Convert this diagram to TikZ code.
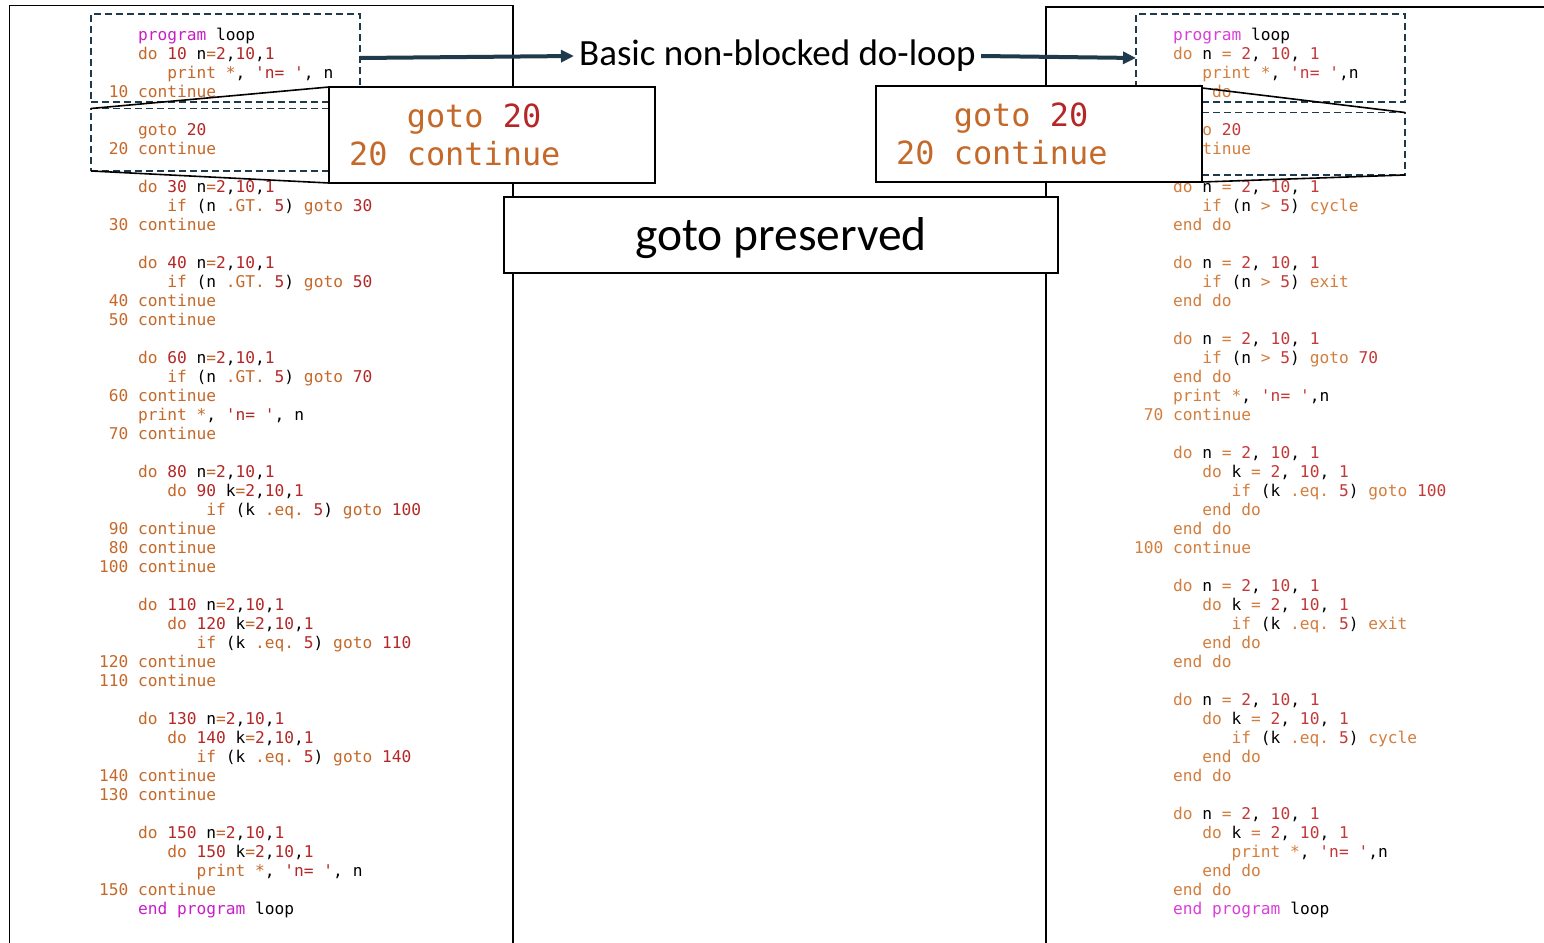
\documentclass[tikz,border=0pt]{standalone}
\usepackage{fontspec}
\setmonofont{DejaVu Sans Mono}
\newfontfamily\labelfont{Carlito}
\usetikzlibrary{arrows.meta}

\definecolor{slate}{HTML}{1F3A4B}
\definecolor{kwc}{HTML}{C4692A}
\definecolor{numc}{HTML}{B52626}
\definecolor{magc}{HTML}{C81EC8}

\newcommand\K[1]{\textcolor{kwc}{#1}}
\newcommand\N[1]{\textcolor{numc}{#1}}
\newcommand\M[1]{\textcolor{magc}{#1}}
% one line of a listing: name, column, row, text
\newcommand\cl[4]{\node[code] (#1) at ({\colx+9.75*#2},{40.5+19*#3}) {#4};}

\tikzset{
  code/.style={font=\ttfamily\fontsize{16.2}{19}\selectfont, inner sep=0pt, anchor=base west, text=black},
  bigcode/.style={font=\ttfamily\fontsize{31.9}{38}\selectfont, inner sep=0pt, anchor=base west, text=black},
  panel/.style={draw=black, line width=1.6pt},
  dbox/.style={draw=slate, line width=1.8pt, dash pattern=on 7pt off 4pt, inner sep=0pt, outer sep=0pt},
  zoomline/.style={draw=black, line width=1.6pt},
  gotobox/.style={draw=black, fill=white, line width=1.6pt, inner sep=0pt, outer sep=0pt, minimum width=326pt, minimum height=96pt},
  pbox/.style={draw=black, fill=white, line width=1.6pt, inner sep=0pt, minimum width=554pt, minimum height=76pt, font=\labelfont\fontsize{47.5}{50}\selectfont},
  title/.style={font=\labelfont\fontsize{37}{40}\selectfont, inner xsep=5pt, inner ysep=0pt},
  arr/.style={draw=slate, line width=4pt, -{Triangle[length=13pt,width=12pt]}}
}

\begin{document}
\begin{tikzpicture}[x=1pt,y=-1pt]
\fill[white] (0,0) rectangle (1544,942);
\useasboundingbox (0,0) rectangle (1544,942);

% panel outlines
\draw[panel] (9.5,943) -- (9.5,5.5) -- (513,5.5) -- (513,943);
\draw[panel, line width=1.1pt] (1046,943) -- (1046,7) -- (1545,7);

% fixed-form listing
\begin{scope}
\def\colx{99}
\cl{l0}{4}{0}{\M{program} loop}
\cl{l1}{4}{1}{\K{do} \N{10} n\K{=}\N{2},\N{10},\N{1}}
\cl{l2}{7}{2}{\K{print} \K{*}, \N{'n= '}, n}
\cl{l3}{1}{3}{\K{10 continue}}
\cl{l5}{4}{5}{\K{goto} \N{20}}
\cl{l6}{1}{6}{\K{20 continue}}
\cl{l8}{4}{8}{\K{do} \N{30} n\K{=}\N{2},\N{10},\N{1}}
\cl{l9}{7}{9}{\K{if} (n \K{.GT.} \N{5}) \K{goto} \N{30}}
\cl{l10}{1}{10}{\K{30 continue}}
\cl{l12}{4}{12}{\K{do} \N{40} n\K{=}\N{2},\N{10},\N{1}}
\cl{l13}{7}{13}{\K{if} (n \K{.GT.} \N{5}) \K{goto} \N{50}}
\cl{l14}{1}{14}{\K{40 continue}}
\cl{l15}{1}{15}{\K{50 continue}}
\cl{l17}{4}{17}{\K{do} \N{60} n\K{=}\N{2},\N{10},\N{1}}
\cl{l18}{7}{18}{\K{if} (n \K{.GT.} \N{5}) \K{goto} \N{70}}
\cl{l19}{1}{19}{\K{60 continue}}
\cl{l20}{4}{20}{\K{print} \K{*}, \N{'n= '}, n}
\cl{l21}{1}{21}{\K{70 continue}}
\cl{l23}{4}{23}{\K{do} \N{80} n\K{=}\N{2},\N{10},\N{1}}
\cl{l24}{7}{24}{\K{do} \N{90} k\K{=}\N{2},\N{10},\N{1}}
\cl{l25}{11}{25}{\K{if} (k \K{.eq.} \N{5}) \K{goto} \N{100}}
\cl{l26}{1}{26}{\K{90 continue}}
\cl{l27}{1}{27}{\K{80 continue}}
\cl{l28}{0}{28}{\K{100 continue}}
\cl{l30}{4}{30}{\K{do} \N{110} n\K{=}\N{2},\N{10},\N{1}}
\cl{l31}{7}{31}{\K{do} \N{120} k\K{=}\N{2},\N{10},\N{1}}
\cl{l32}{10}{32}{\K{if} (k \K{.eq.} \N{5}) \K{goto} \N{110}}
\cl{l33}{0}{33}{\K{120 continue}}
\cl{l34}{0}{34}{\K{110 continue}}
\cl{l36}{4}{36}{\K{do} \N{130} n\K{=}\N{2},\N{10},\N{1}}
\cl{l37}{7}{37}{\K{do} \N{140} k\K{=}\N{2},\N{10},\N{1}}
\cl{l38}{10}{38}{\K{if} (k \K{.eq.} \N{5}) \K{goto} \N{140}}
\cl{l39}{0}{39}{\K{140 continue}}
\cl{l40}{0}{40}{\K{130 continue}}
\cl{l42}{4}{42}{\K{do} \N{150} n\K{=}\N{2},\N{10},\N{1}}
\cl{l43}{7}{43}{\K{do} \N{150} k\K{=}\N{2},\N{10},\N{1}}
\cl{l44}{10}{44}{\K{print} \K{*}, \N{'n= '}, n}
\cl{l45}{0}{45}{\K{150 continue}}
\cl{l46}{4}{46}{\M{end program} loop}
\end{scope}

% block-form listing
\begin{scope}
\definecolor{kwc}{HTML}{D27E3E}
\definecolor{numc}{HTML}{C53838}
\definecolor{magc}{HTML}{D93FD9}
\def\colx{1134}
\cl{r0}{4}{0}{\M{program} loop}
\cl{r1}{4}{1}{\K{do} n \K{=} \N{2}, \N{10}, \N{1}}
\cl{r2}{7}{2}{\K{print} \K{*}, \N{'n= '},n}
\cl{r3}{4}{3}{\K{end do}}
\cl{r5}{4}{5}{\K{goto} \N{20}}
\cl{r6}{1}{6}{\K{20 continue}}
\cl{r8}{4}{8}{\K{do} n \K{=} \N{2}, \N{10}, \N{1}}
\cl{r9}{7}{9}{\K{if} (n \K{>} \N{5}) \K{cycle}}
\cl{r10}{4}{10}{\K{end do}}
\cl{r12}{4}{12}{\K{do} n \K{=} \N{2}, \N{10}, \N{1}}
\cl{r13}{7}{13}{\K{if} (n \K{>} \N{5}) \K{exit}}
\cl{r14}{4}{14}{\K{end do}}
\cl{r16}{4}{16}{\K{do} n \K{=} \N{2}, \N{10}, \N{1}}
\cl{r17}{7}{17}{\K{if} (n \K{>} \N{5}) \K{goto} \N{70}}
\cl{r18}{4}{18}{\K{end do}}
\cl{r19}{4}{19}{\K{print} \K{*}, \N{'n= '},n}
\cl{r20}{1}{20}{\K{70 continue}}
\cl{r22}{4}{22}{\K{do} n \K{=} \N{2}, \N{10}, \N{1}}
\cl{r23}{7}{23}{\K{do} k \K{=} \N{2}, \N{10}, \N{1}}
\cl{r24}{10}{24}{\K{if} (k \K{.eq.} \N{5}) \K{goto} \N{100}}
\cl{r25}{7}{25}{\K{end do}}
\cl{r26}{4}{26}{\K{end do}}
\cl{r27}{0}{27}{\K{100 continue}}
\cl{r29}{4}{29}{\K{do} n \K{=} \N{2}, \N{10}, \N{1}}
\cl{r30}{7}{30}{\K{do} k \K{=} \N{2}, \N{10}, \N{1}}
\cl{r31}{10}{31}{\K{if} (k \K{.eq.} \N{5}) \K{exit}}
\cl{r32}{7}{32}{\K{end do}}
\cl{r33}{4}{33}{\K{end do}}
\cl{r35}{4}{35}{\K{do} n \K{=} \N{2}, \N{10}, \N{1}}
\cl{r36}{7}{36}{\K{do} k \K{=} \N{2}, \N{10}, \N{1}}
\cl{r37}{10}{37}{\K{if} (k \K{.eq.} \N{5}) \K{cycle}}
\cl{r38}{7}{38}{\K{end do}}
\cl{r39}{4}{39}{\K{end do}}
\cl{r41}{4}{41}{\K{do} n \K{=} \N{2}, \N{10}, \N{1}}
\cl{r42}{7}{42}{\K{do} k \K{=} \N{2}, \N{10}, \N{1}}
\cl{r43}{10}{43}{\K{print} \K{*}, \N{'n= '},n}
\cl{r44}{7}{44}{\K{end do}}
\cl{r45}{4}{45}{\K{end do}}
\cl{r46}{4}{46}{\M{end program} loop}
\end{scope}

% highlighted regions
\node[dbox, minimum width=269pt, minimum height=88pt] (lz1) at (225.5,58) {};
\node[dbox, minimum width=269pt, minimum height=62.5pt] (lz2) at (225.5,139.75) {};
\node[dbox, minimum width=269pt, minimum height=88pt] (rz1) at (1270.5,58) {};
\node[dbox, minimum width=269pt, minimum height=62.5pt] (rz2) at (1270.5,143.75) {};

% magnifier lines
\draw[zoomline] (lz2.north west) -- (492-163,87);
\draw[zoomline] (lz2.south west) -- (492-163,183);
\draw[zoomline] (1039+163,88) -- (rz2.north east);
\draw[zoomline] (1039+163,182) -- (rz2.south east);

% enlarged goto boxes
\node[gotobox] (lgo) at (492,135) {};
\node[bigcode] (lg1) at ({349+3*19.2},127) {\K{goto} \N{20}};
\node[bigcode] (lg2) at (349,165) {\K{20 continue}};
\node[gotobox] (rgo) at (1039,134) {};
\node[bigcode] (rg1) at ({896+3*19.2},126) {\K{goto} \N{20}};
\node[bigcode] (rg2) at (896,164) {\K{20 continue}};

% captions
\node[pbox] (gp) at (781,235) {};
\node[font=\labelfont\fontsize{47.5}{50}\selectfont, inner sep=0pt] (gpt) at (781,238) {goto preserved};
\node[title] (bn) at (777.5,56) {Basic non-blocked do-loop};
\draw[arr] (lz1.east) -- (bn.west);
\draw[arr] (bn.east) -- (rz1.west);
\end{tikzpicture}
\end{document}
